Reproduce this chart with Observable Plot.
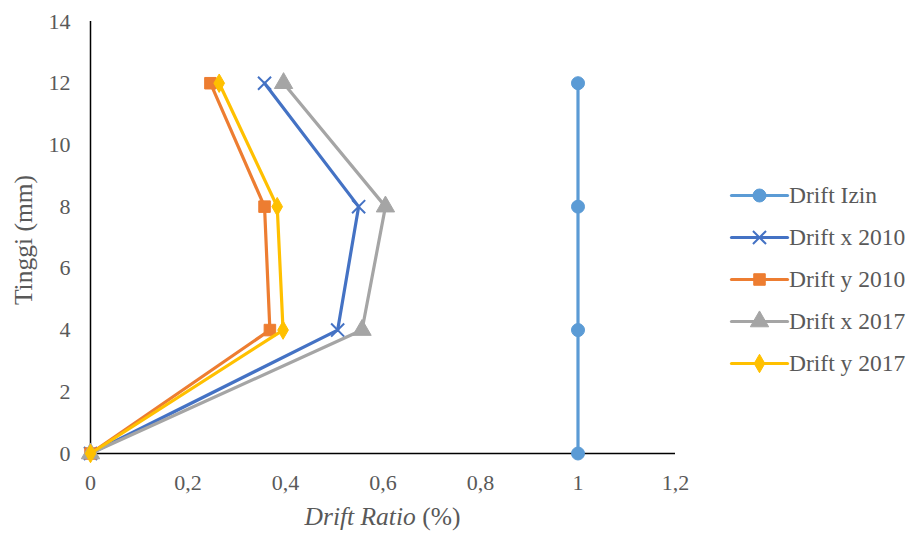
<!DOCTYPE html>
<html>
<head>
<meta charset="utf-8">
<script src="https://cdn.jsdelivr.net/npm/d3@7"></script>
<script src="https://cdn.jsdelivr.net/npm/@observablehq/plot@0.6"></script>
<style>
  html, body { margin: 0; padding: 0; background: #fff; }
  #wrap { position: relative; width: 912px; height: 534px; font-family: 'Liberation Serif', serif; color: #595959; }
  #wrap svg text { font-family: 'Liberation Serif', serif; }
  #xtitle { position: absolute; left: 90px; width: 585px; top: 503px; text-align: center; font-size: 25.5px; line-height: 28px; }
  #ytitle { position: absolute; left: 24px; top: 240px; font-size: 25.5px; line-height: 28px; white-space: nowrap; transform: translate(-50%, -50%) rotate(-90deg); }
  #legend { position: absolute; left: 731px; top: 174px; font-size: 23.5px; }
  .row { display: flex; align-items: center; height: 42px; }
  .row span { margin-left: 2px; white-space: nowrap; }
</style>
</head>
<body>
<div id="wrap"></div>
<script>
const heights = [0, 4, 8, 12];
const seriesNames = ["Drift Izin", "Drift x 2010", "Drift y 2010", "Drift x 2017", "Drift y 2017"];
const driftIzin  = [1, 1, 1, 1];
const driftX2010 = [0, 0.507, 0.55, 0.357];
const driftY2010 = [0, 0.368, 0.357, 0.246];
const driftX2017 = [0, 0.557, 0.605, 0.396];
const driftY2017 = [0, 0.395, 0.383, 0.264];
const seriesValues = [driftIzin, driftX2010, driftY2010, driftX2017, driftY2017];
const seriesColors = ["#5B9BD5", "#4472C4", "#ED7D31", "#A5A5A5", "#FFC000"];
const seriesSymbols = ["circle", "times", "square", "triangle", "diamond"];
const symbolSizes = [6.5, 6, 6.5, 6.8, 5.6];
const xTicks = [0, 0.2, 0.4, 0.6, 0.8, 1, 1.2];
const yTicks = [0, 2, 4, 6, 8, 10, 12, 14];
const xTitleItalic = "Drift Ratio";
const xTitleUnit = " (%)";
const yTitle = "Tinggi (mm)";

const rows = [];
seriesNames.forEach((name, i) => {
  seriesValues[i].forEach((v, j) => rows.push({series: name, idx: i, x: v, y: heights[j]}));
});

function dotMark(data, i) {
  return seriesSymbols[i] === "times"
    ? Plot.dot(data, {x: "x", y: "y", symbol: "times", r: symbolSizes[i], stroke: seriesColors[i], strokeWidth: 2})
    : Plot.dot(data, {x: "x", y: "y", symbol: seriesSymbols[i], r: symbolSizes[i], fill: seriesColors[i], stroke: seriesColors[i], strokeWidth: 1});
}

const marks = [
  Plot.ruleX([0], {y1: 0, y2: 14, stroke: "black", strokeWidth: 1.5}),
  Plot.ruleY([0], {x1: 0, x2: 1.2, stroke: "black", strokeWidth: 1.5}),
  Plot.axisX({ticks: xTicks, tickSize: 0, tickPadding: 21, fontSize: 22, tickFormat: d => String(d).replace(".", ","), label: null}),
  Plot.axisY({ticks: yTicks, tickSize: 0, tickPadding: 20, fontSize: 22, label: null})
];
seriesNames.forEach((name, i) => {
  const data = rows.filter(d => d.idx === i);
  marks.push(Plot.line(data, {x: "x", y: "y", stroke: seriesColors[i], strokeWidth: 3.2}));
  marks.push(dotMark(data, i));
});

const chart = Plot.plot({
  width: 912,
  height: 534,
  marginLeft: 90,
  marginRight: 237,
  marginTop: 21,
  marginBottom: 81,
  style: {fontFamily: "'Liberation Serif', serif", fontSize: "22px", color: "#595959", background: "white"},
  x: {domain: [0, 1.2]},
  y: {domain: [0, 14]},
  marks
});
const wrap = document.getElementById("wrap");
wrap.appendChild(chart);

const xt = document.createElement("div");
xt.id = "xtitle";
const it = document.createElement("i");
it.textContent = xTitleItalic;
xt.appendChild(it);
xt.appendChild(document.createTextNode(xTitleUnit));
wrap.appendChild(xt);

const yt = document.createElement("div");
yt.id = "ytitle";
yt.textContent = yTitle;
wrap.appendChild(yt);

const lg = document.createElement("div");
lg.id = "legend";
seriesNames.forEach((name, i) => {
  const row = document.createElement("div");
  row.className = "row";
  const sw = Plot.plot({
    width: 56, height: 20, margin: 0,
    x: {domain: [0, 1], axis: null}, y: {domain: [0, 1], axis: null},
    marks: [
      Plot.line([{x: 0, y: 0.5}, {x: 1, y: 0.5}], {x: "x", y: "y", stroke: seriesColors[i], strokeWidth: 3.2, strokeLinecap: "round"}),
      dotMark([{x: 0.5, y: 0.5}], i)
    ]
  });
  sw.style.overflow = "visible";
  row.appendChild(sw);
  const t = document.createElement("span");
  t.textContent = name;
  row.appendChild(t);
  lg.appendChild(row);
});
wrap.appendChild(lg);
</script>
</body>
</html>
